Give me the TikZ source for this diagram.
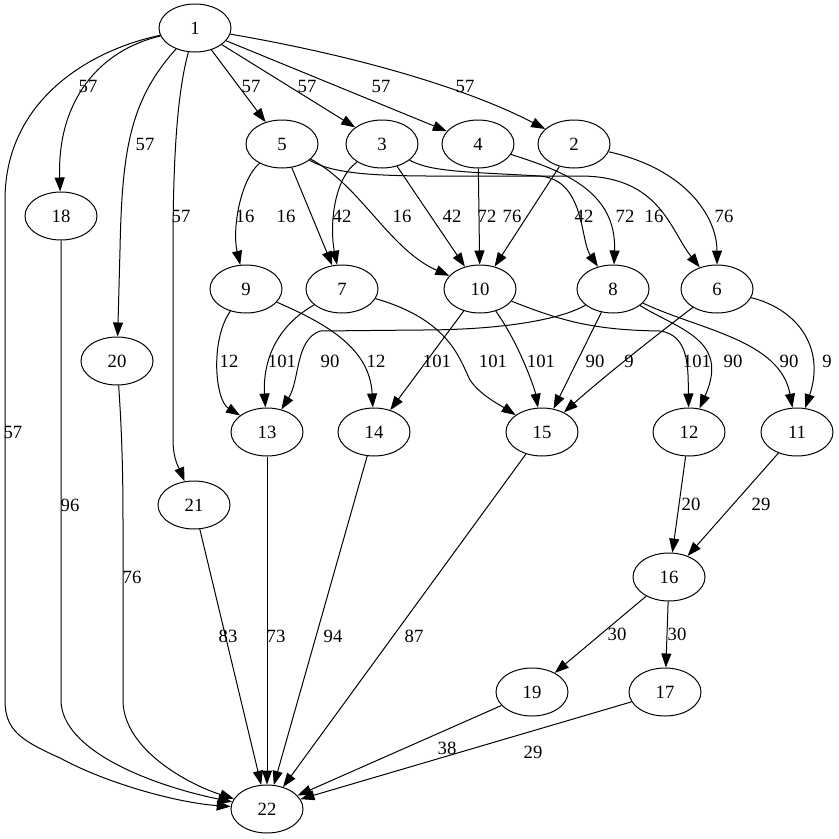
\documentclass[tikz,border=0pt]{standalone}
\usepackage{fontspec}
\setmainfont{Liberation Serif}
\usetikzlibrary{arrows.meta,shapes.geometric}

\begin{document}
\begin{tikzpicture}[x=1pt,y=-1pt,
    vert/.style={ellipse,draw,line width=1pt,minimum width=72pt,minimum height=48pt,inner sep=0pt,font=\fontsize{18.7}{20}\selectfont},
    lbl/.style={inner sep=0pt,font=\fontsize{18.7}{20}\selectfont},
    link/.style={->,line width=1pt},
    >={Triangle[length=14pt,width=10pt]}]
    \useasboundingbox (0,0) rectangle (839,839); % same size as the reference

    % vertices
    \foreach \n/\x/\y in {1/195/28, 5/282/144, 3/382/144, 4/478/144, 2/574/144, 18/61/216,
        9/246/289, 7/342/289, 10/480/289, 8/613/289, 6/717/289, 20/117/361,
        13/267/432, 14/374/432, 15/542/432, 12/689/432, 11/797/432, 21/194/505,
        16/669/577, 19/532/692, 17/665/692, 22/267/809}{
        \node[vert] (n\n) at (\x,\y) {\n};
    }

    % straight links
    \foreach \a/\b in {1/5, 1/3, 1/4, 4/10, 3/10, 2/10, 5/7, 10/14, 8/15,
        13/22, 14/22, 15/22, 12/16, 11/16, 16/19, 16/17, 19/22, 17/22, 21/22}{
        \draw[link] (n\a) -- (n\b);
    }

    % bent links
    \draw[link] (n1) .. controls (380,60) and (480,95) .. (n2);
    \draw[link] (n1) .. controls (100,50) and (57,100) .. (n18);
    \draw[link] (n1) .. controls (130,100) and (122,150) .. (120,250) -- (n20);
    \draw[link] (n1) .. controls (178,90) and (173,150) .. (173,250) -- (173,440) .. controls (173,460) and (180,470) .. (n21);
    \draw[link] (n1) .. controls (90,50) and (5,100) .. (5,200) -- (5,700) .. controls (5,730) and (20,740) .. (60,758) .. controls (110,785) and (180,803) .. (n22);
    \draw[link] (n18) -- (61,700) .. controls (61,750) and (150,785) .. (n22);
    \draw[link] (n20) .. controls (121,420) and (123,460) .. (123,520) -- (123,700) .. controls (123,750) and (190,785) .. (n22);

    \draw[link] (n5) .. controls (240,180) and (232,230) .. (n9);
    \draw[link] (n5) .. controls (360,185) and (390,250) .. (n10);
    \draw[link] (n5) .. controls (340,178) and (400,176) .. (500,176) -- (580,176) .. controls (660,176) and (670,230) .. (n6);
    \draw[link] (n3) .. controls (332,180) and (330,230) .. (n7);
    \draw[link] (n3) .. controls (430,172) and (470,172) .. (540,176) .. controls (585,180) and (580,240) .. (n8);
    \draw[link] (n4) .. controls (560,170) and (617,190) .. (n8);
    \draw[link] (n2) .. controls (690,170) and (717,220) .. (n6);

    \draw[link] (n9) .. controls (210,340) and (215,400) .. (n13);
    \draw[link] (n9) .. controls (330,325) and (370,350) .. (n14);
    \draw[link] (n7) .. controls (270,330) and (263,370) .. (n13);
    \draw[link] (n7) .. controls (450,320) and (460,360) .. (470,380) .. controls (480,395) and (500,405) .. (n15);
    \draw[link] (n10) .. controls (520,345) and (535,390) .. (n15);
    \draw[link] (n10) .. controls (560,320) and (590,330) .. (660,331) .. controls (690,335) and (688,370) .. (n12);
    \draw[link] (n8) .. controls (560,320) and (500,330) .. (420,330) -- (320,331) .. controls (295,340) and (300,380) .. (n13);
    \draw[link] (n8) .. controls (680,330) and (730,340) .. (n12);
    \draw[link] (n8) .. controls (700,330) and (780,340) .. (n11);
    \draw[link] (n6) .. controls (650,340) and (600,380) .. (n15);
    \draw[link] (n6) .. controls (800,310) and (825,350) .. (n11);

    % weights
    \foreach \t/\x/\y in {57/88/86, 57/145/144, 57/181/216, 57/251/86, 57/307/86, 57/381/86, 57/465/86, 57/13/432,
        16/245/216, 16/286/216, 42/342/216, 16/402/216, 42/452/216, 72/487/216, 76/512/216,
        42/584/216, 72/625/216, 16/654/216, 76/724/216,
        12/229/361, 101/282/361, 90/330/361, 12/376/361, 101/437/361, 101/493/361, 101/541/361,
        90/595/361, 9/629/361, 101/697/361, 90/733/361, 90/789/361, 9/827/361,
        96/70/505, 76/132/577, 20/691/504, 29/761/504, 83/228/636, 73/276/636, 94/333/636, 87/414/636,
        30/617/634, 30/677/634, 38/447/748, 29/533/752}{
        \node[lbl] at (\x,\y) {\t};
    }
\end{tikzpicture}
\end{document}
